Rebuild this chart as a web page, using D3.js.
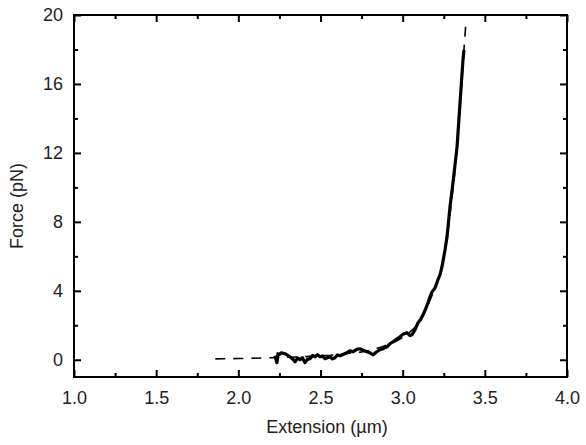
<!DOCTYPE html>
<html>
<head>
<meta charset="utf-8">
<script src="https://cdn.jsdelivr.net/npm/d3@7"></script>
<style>
  body { margin: 0; background: #fff; }
  text { font-family: "Liberation Sans", Arial, sans-serif; fill: #222; }
  .axis path.domain { display: none; }
  .axis line { stroke: #000; stroke-width: 2; }
</style>
</head>
<body>
<div id="chart"></div>
<script>
/* CONSTANTS */
const width = 586,
  height = 445,
  margin = { top: 15, bottom: 68, left: 74, right: 19 };

// tick values
const xMajor = [1.0, 1.5, 2.0, 2.5, 3.0, 3.5, 4.0];
const xMinor = [1.25, 1.75, 2.25, 2.75, 3.25, 3.75];
const yMajor = [0, 4, 8, 12, 16, 20];
const yMinor = [2, 6, 10, 14, 18];

// measured trace: extension (um) and force (pN)
const dataExt = [2.223, 2.235, 2.241, 2.247, 2.262, 2.284, 2.296, 2.314, 2.330, 2.345,
  2.360, 2.375, 2.390, 2.406, 2.420, 2.436, 2.452, 2.467, 2.482, 2.497,
  2.512, 2.527, 2.542, 2.558, 2.573, 2.588, 2.604, 2.619, 2.640, 2.661,
  2.680, 2.698, 2.720, 2.740, 2.760, 2.783, 2.800, 2.820, 2.840, 2.862,
  2.885, 2.905, 2.925, 2.941, 2.962, 2.984, 3.005, 3.026, 3.045, 3.057,
  3.075, 3.093, 3.110, 3.124, 3.140, 3.154, 3.168, 3.179, 3.197, 3.215,
  3.228, 3.239, 3.258, 3.270, 3.276, 3.288, 3.306, 3.331, 3.349, 3.367,
  3.373];
const dataForce = [0.23, -0.17, 0.35, 0.29, 0.40, 0.35, 0.28, 0.17, 0.05, -0.12,
  0.10, 0.0, 0.12, -0.17, 0.02, 0.06, 0.25, 0.17, 0.30, 0.17,
  0.22, 0.06, 0.12, 0.17, 0.05, 0.12, 0.28, 0.23, 0.32, 0.41,
  0.52, 0.46, 0.60, 0.64, 0.55, 0.46, 0.40, 0.29, 0.45, 0.58,
  0.66, 0.75, 0.95, 1.04, 1.18, 1.33, 1.50, 1.57, 1.40, 1.45,
  1.74, 2.14, 2.35, 2.61, 2.95, 3.30, 3.70, 3.94, 4.17, 4.64,
  4.95, 5.39, 6.38, 7.13, 7.71, 8.87, 10.26, 12.35, 14.90, 17.39,
  17.97];

// fit curve (dashed)
const fitExt = [1.86, 2.0, 2.2, 2.4, 2.6, 2.8, 2.9, 3.0, 3.1, 3.15, 3.2, 3.25, 3.3, 3.33, 3.35, 3.37, 3.386];
const fitForce = [0.05, 0.07, 0.12, 0.18, 0.3, 0.55, 0.85, 1.3, 2.2, 3.1, 4.3, 6.0, 9.4, 12.2, 14.8, 17.6, 19.7];

const trace = dataExt.map((x, i) => ({ x, y: dataForce[i] }));
const fit = fitExt.map((x, i) => ({ x, y: fitForce[i] }));

/* SCALES */
const xScale = d3.scaleLinear().domain([1, 4]).range([margin.left, width - margin.right]);
const yScale = d3.scaleLinear().domain([-1, 20]).range([height - margin.bottom, margin.top]);

const svg = d3.select("#chart").append("svg")
  .attr("width", width)
  .attr("height", height);

const x0 = margin.left, x1 = width - margin.right;
const y0 = height - margin.bottom, y1 = margin.top;

// major + minor ticks on all four sides, pointing inward
function addTicks(axisFn, scale, values, size, transform, labels, pad) {
  const g = svg.append("g")
    .attr("class", "axis")
    .attr("transform", transform)
    .call(axisFn(scale).tickValues(values).tickSizeInner(-size).tickSizeOuter(0)
      .tickPadding(pad || 0)
      .tickFormat(labels ? labels : () => ""));
  g.selectAll("text").style("font-size", "18px");
  return g;
}

addTicks(d3.axisBottom, xScale, xMajor, 7, `translate(0,${y0})`, d3.format(".1f"), 14);
addTicks(d3.axisBottom, xScale, xMinor, 4, `translate(0,${y0})`, null);
addTicks(d3.axisTop, xScale, xMajor, 7, `translate(0,${y1})`, null);
addTicks(d3.axisTop, xScale, xMinor, 4, `translate(0,${y1})`, null);
addTicks(d3.axisLeft, yScale, yMajor, 7, `translate(${x0},0)`, d3.format("d"), 11);
addTicks(d3.axisLeft, yScale, yMinor, 4, `translate(${x0},0)`, null);
addTicks(d3.axisRight, yScale, yMajor, 7, `translate(${x1},0)`, null);
addTicks(d3.axisRight, yScale, yMinor, 4, `translate(${x1},0)`, null);

// frame
svg.append("rect")
  .attr("x", x0).attr("y", y1)
  .attr("width", x1 - x0).attr("height", y0 - y1)
  .attr("fill", "none")
  .attr("stroke", "#000")
  .attr("stroke-width", 2);

// axis titles
svg.append("text")
  .attr("x", 327).attr("y", 433)
  .attr("text-anchor", "middle")
  .style("font-size", "18px")
  .text("Extension (\u00b5m)");

svg.append("text")
  .attr("transform", "translate(23,206) rotate(-90)")
  .attr("text-anchor", "middle")
  .style("font-size", "18px")
  .text("Force (pN)");

/* LINES */
const fitLine = d3.line().curve(d3.curveMonotoneX).x(d => xScale(d.x)).y(d => yScale(d.y));
const traceLine = d3.line().x(d => xScale(d.x)).y(d => yScale(d.y));

svg.append("path")
  .datum(fit)
  .attr("d", fitLine)
  .attr("fill", "none")
  .attr("stroke", "#000")
  .attr("stroke-width", 1.6)
  .attr("stroke-dasharray", "10,8");

svg.append("path")
  .datum(trace)
  .attr("d", traceLine)
  .attr("fill", "none")
  .attr("stroke", "#000")
  .attr("stroke-width", 3.2)
  .attr("stroke-linejoin", "round");
</script>
</body>
</html>
